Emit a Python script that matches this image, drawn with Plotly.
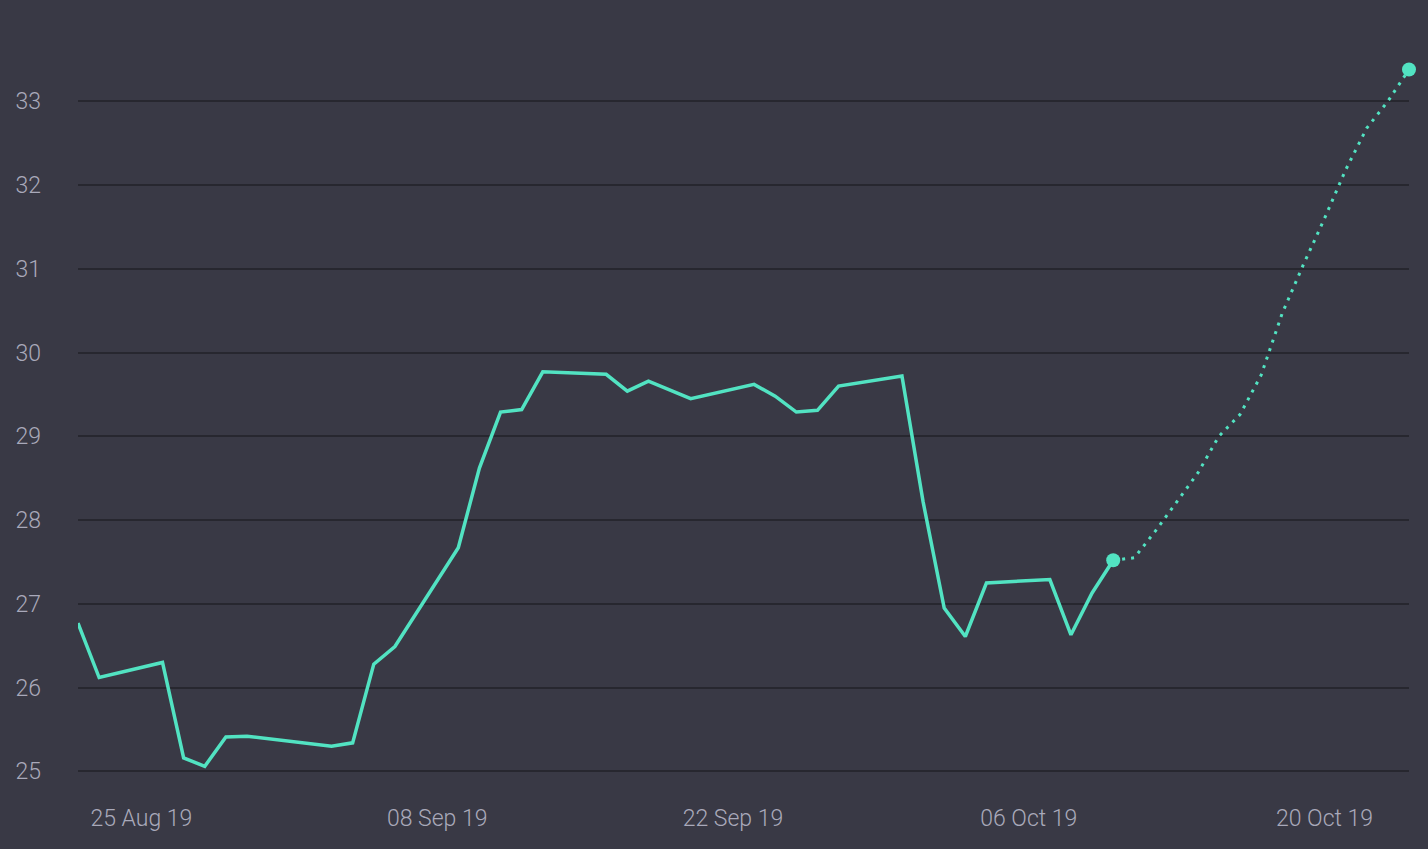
import plotly.graph_objects as go

# Actual (solid) series: business days
actual_dates = [
    "2019-08-22", "2019-08-23", "2019-08-26", "2019-08-27", "2019-08-28",
    "2019-08-29", "2019-08-30", "2019-09-03", "2019-09-04", "2019-09-05",
    "2019-09-06", "2019-09-09", "2019-09-10", "2019-09-11", "2019-09-12",
    "2019-09-13", "2019-09-16", "2019-09-17", "2019-09-18", "2019-09-20",
    "2019-09-23", "2019-09-24", "2019-09-25", "2019-09-26", "2019-09-27",
    "2019-09-30", "2019-10-01", "2019-10-02", "2019-10-03", "2019-10-04",
    "2019-10-07", "2019-10-08", "2019-10-09", "2019-10-10",
]
actual_values = [
    26.77, 26.12, 26.30, 25.16, 25.06,
    25.41, 25.42, 25.30, 25.34, 26.28,
    26.49, 27.67, 28.62, 29.29, 29.32,
    29.77, 29.74, 29.54, 29.66, 29.45,
    29.62, 29.48, 29.29, 29.31, 29.60,
    29.72, 28.22, 26.95, 26.61, 27.25,
    27.29, 26.63, 27.13, 27.52,
]

# Forecast (dotted) series
forecast_dates = [
    "2019-10-10", "2019-10-11", "2019-10-12", "2019-10-13", "2019-10-14",
    "2019-10-15", "2019-10-16", "2019-10-17", "2019-10-18", "2019-10-19",
    "2019-10-20", "2019-10-21", "2019-10-22", "2019-10-23", "2019-10-24",
]
forecast_values = [
    27.52, 27.55, 27.87, 28.21, 28.56,
    29.00, 29.26, 29.73, 30.47, 31.05,
    31.60, 32.18, 32.68, 33.00, 33.38,
]

marker_dates = [forecast_dates[0], forecast_dates[-1]]
marker_values = [forecast_values[0], forecast_values[-1]]

y_ticks = [25, 26, 27, 28, 29, 30, 31, 32, 33]

LINE = "#52e3c2"
BG = "#393945"
GRID = "#27272f"
TEXT = "#a9a9ba"
FONT = "Roboto, 'Noto Sans', sans-serif"

fig = go.Figure()
fig.add_trace(go.Scatter(
    x=actual_dates, y=actual_values, mode="lines",
    line=dict(color=LINE, width=3.5), hoverinfo="skip",
))
fig.add_trace(go.Scatter(
    x=forecast_dates, y=forecast_values, mode="lines",
    line=dict(color=LINE, width=3, dash="3px,6px"), hoverinfo="skip",
))
fig.add_trace(go.Scatter(
    x=marker_dates, y=marker_values, mode="markers",
    marker=dict(color=LINE, size=14), cliponaxis=False, hoverinfo="skip",
))

fig.update_layout(
    width=1428, height=849,
    paper_bgcolor=BG, plot_bgcolor=BG,
    margin=dict(l=78, r=19, t=20, b=59),
    showlegend=False,
    font=dict(family=FONT, size=23, color=TEXT, weight=300),
    xaxis=dict(
        type="date",
        range=["2019-08-22", "2019-10-24"],
        tick0="2019-08-25", dtick=14 * 24 * 3600 * 1000,
        tickformat="%d %b %y",
        showgrid=False, zeroline=False, showline=False,
        ticks="", ticklabelstandoff=12,
        tickfont=dict(family=FONT, size=23, color=TEXT, weight=300),
    ),
    yaxis=dict(
        range=[24.777, 33.971],
        tickvals=y_ticks,
        showgrid=True, gridcolor=GRID, gridwidth=2,
        zeroline=False, showline=False,
        ticks="", ticklabelstandoff=36,
        tickfont=dict(family=FONT, size=23, color=TEXT, weight=300),
    ),
)

fig.write_html(
    "out.html",
    config={"displayModeBar": False},
    post_script="document.body.style.margin='0';document.body.style.background='#393945';",
)
